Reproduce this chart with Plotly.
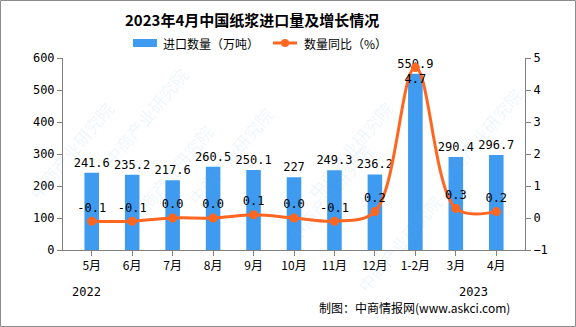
import plotly.graph_objects as go

# Monthly pulp imports (10k tonnes) and YoY change (%)
months = ["5月", "6月", "7月", "8月", "9月", "10月", "11月", "12月", "1-2月", "3月", "4月"]
import_volume = [241.6, 235.2, 217.6, 260.5, 250.1, 227, 249.3, 236.2, 550.9, 290.4, 296.7]
yoy_change = [-0.1, -0.1, 0.0, 0.0, 0.1, 0.0, -0.1, 0.2, 4.7, 0.3, 0.2]
volume_labels = ["241.6", "235.2", "217.6", "260.5", "250.1", "227", "249.3", "236.2", "550.9", "290.4", "296.7"]
yoy_labels = ["-0.1", "-0.1", "0.0", "0.0", "0.1", "0.0", "-0.1", "0.2", "4.7", "0.3", "0.2"]
series_names = ["进口数量（万吨）", "数量同比（%）"]

W, H = 576, 327
ML, MR, MT, MB = 63, 51, 58, 77
PW, PH = W - ML - MR, H - MT - MB

BAR_COLOR = "#3F9BF0"
LINE_COLOR = "#FF6620"

def px_x(x):
    return (x - ML) / PW

def px_y(y):
    return (H - MB - y) / PH

CJK = "Noto Sans CJK SC, Noto Sans, sans-serif"
NUM = "DejaVu Sans Mono, Liberation Mono, monospace"

fig = go.Figure()

fig.add_trace(go.Bar(
    x=months, y=import_volume, name=series_names[0],
    marker=dict(color=BAR_COLOR, line=dict(width=0)),
    text=volume_labels, textposition="outside", cliponaxis=False,
    constraintext="none",
    textfont=dict(family=NUM, size=12, color="#000000"),
    yaxis="y",
))

# the peak's label sits below its point, the rest above
yoy_pos = ["bottom center" if v == max(yoy_change) else "top center" for v in yoy_change]

fig.add_trace(go.Scatter(
    x=months, y=yoy_change, name=series_names[1],
    mode="lines+markers+text",
    line=dict(color=LINE_COLOR, width=3, shape="spline", smoothing=1.0),
    marker=dict(color=LINE_COLOR, size=9),
    text=yoy_labels, textposition=yoy_pos, cliponaxis=False,
    textfont=dict(family=NUM, size=12, color="#000000"),
    yaxis="y2",
))

shapes = [
    # outer frame
    dict(type="rect", xref="paper", yref="paper",
         x0=px_x(0.5), x1=px_x(W - 0.5), y0=px_y(H - 0.5), y1=px_y(0.5),
         line=dict(color="#8c8c8c", width=1), fillcolor="rgba(0,0,0,0)", layer="below"),
    # legend keys
    dict(type="rect", xref="paper", yref="paper",
         x0=px_x(133), x1=px_x(157), y0=px_y(47), y1=px_y(39),
         line=dict(width=0), fillcolor=BAR_COLOR),
    dict(type="line", xref="paper", yref="paper",
         x0=px_x(273), x1=px_x(297), y0=px_y(43), y1=px_y(43),
         line=dict(color=LINE_COLOR, width=3)),
    dict(type="circle", xref="paper", yref="paper",
         x0=px_x(281), x1=px_x(289), y0=px_y(47), y1=px_y(39),
         line=dict(width=0), fillcolor=LINE_COLOR),
]

annotations = [
    dict(text="<b>2023年4月中国纸浆进口量及增长情况</b>", xref="paper", yref="paper",
         x=px_x(252), y=px_y(20), yanchor="middle", showarrow=False,
         font=dict(family=CJK, size=15, color="#000000")),
    dict(text=series_names[0], xref="paper", yref="paper", x=px_x(161), y=px_y(43),
         xanchor="left", yanchor="middle", showarrow=False,
         font=dict(family=CJK, size=12, color="#000000")),
    dict(text=series_names[1], xref="paper", yref="paper", x=px_x(302), y=px_y(43),
         xanchor="left", yanchor="middle", showarrow=False,
         font=dict(family=CJK, size=12, color="#000000")),
    dict(text="2022", xref="paper", yref="paper", x=px_x(70), y=px_y(292), yanchor="middle",
         showarrow=False, font=dict(family=NUM, size=12, color="#000000")),
    dict(text="2023", xref="paper", yref="paper", x=px_x(490), y=px_y(292), yanchor="middle",
         showarrow=False, font=dict(family=NUM, size=12, color="#000000")),
    dict(text="制图：中商情报网(www.askci.com)", xref="paper", yref="paper",
         x=px_x(512), y=px_y(307), xanchor="right", yanchor="middle", showarrow=False,
         font=dict(family=CJK, size=12, color="#000000")),
]

# faint watermark text
for wx, wy in [(95, 60), (230, 100), (400, 150), (120, 230), (330, 250), (530, 80), (20, 150), (450, 300)]:
    annotations.append(dict(text="中商产业研究院", xref="paper", yref="paper",
                            x=px_x(wx), y=px_y(wy), showarrow=False, textangle=-50,
                            font=dict(family=CJK, size=17, color="rgba(120,175,220,0.13)")))

fig.update_layout(
    width=W, height=H,
    margin=dict(l=ML, r=MR, t=MT, b=MB),
    paper_bgcolor="#ffffff", plot_bgcolor="#ffffff",
    showlegend=False,
    bargap=0.64,
    xaxis=dict(showline=True, linecolor="#808080", linewidth=1,
               ticks="outside", ticklen=5, tickcolor="#808080",
               tickfont=dict(family=CJK, size=12, color="#000000"),
               showgrid=False, zeroline=False, fixedrange=True),
    yaxis=dict(range=[0, 600], dtick=100, showline=True, linecolor="#808080", linewidth=1,
               ticks="outside", ticklen=5, tickcolor="#808080",
               tickfont=dict(family=NUM, size=12, color="#000000"),
               showgrid=False, zeroline=False),
    yaxis2=dict(range=[-1, 5], dtick=1, overlaying="y", side="right",
                showline=True, linecolor="#808080", linewidth=1,
                ticks="outside", ticklen=5, tickcolor="#808080",
                tickfont=dict(family=NUM, size=12, color="#000000"),
                showgrid=False, zeroline=False),
    shapes=shapes, annotations=annotations,
)

fig.write_html("out.html")
